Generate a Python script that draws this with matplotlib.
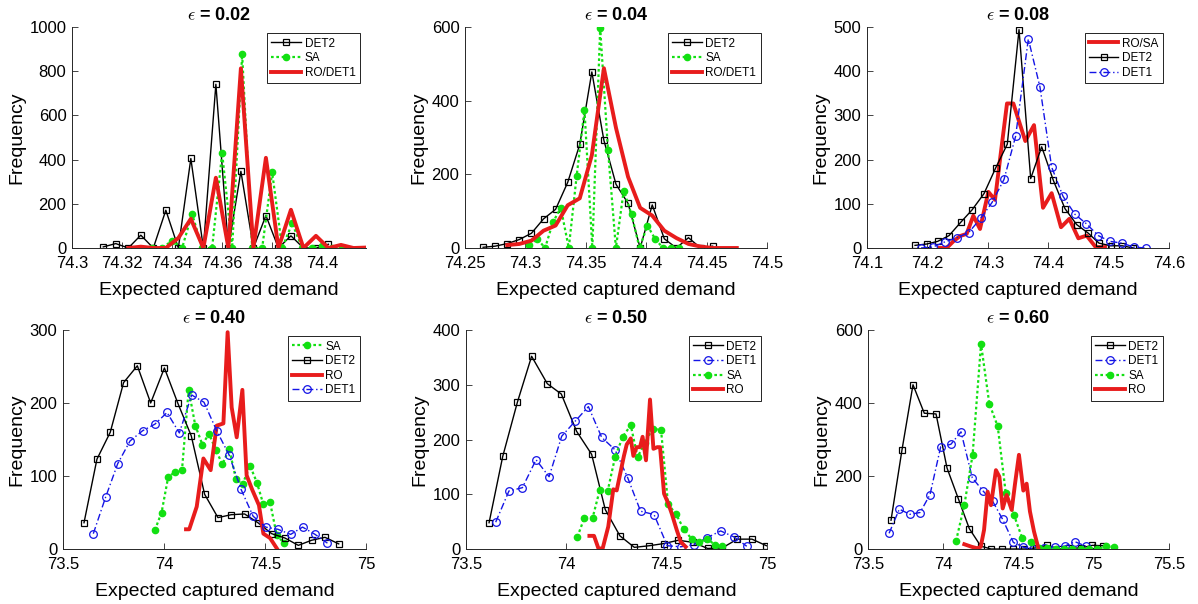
import numpy as np
import matplotlib.pyplot as plt
from matplotlib.ticker import FuncFormatter

plt.rcParams['font.family'] = ['Liberation Sans', 'DejaVu Sans']
plt.rcParams['mathtext.fontset'] = 'cm'

# ---- eps = 0.02 ----
det2_x_002 = [74.3125, 74.3175, 74.3225, 74.3275, 74.3325, 74.3375, 74.3425, 74.3475, 74.3525, 74.3575,
              74.3625, 74.3675, 74.3725, 74.3775, 74.3825, 74.3875, 74.3925, 74.3975, 74.4025]
det2_y_002 = [5, 20, 0, 58, 0, 171, 0, 405, 0, 741, 0, 347, 0, 147, 0, 55, 0, 0, 17]
sa_x_002 = [74.332, 74.336, 74.340, 74.344, 74.348, 74.352, 74.356, 74.360, 74.364, 74.368,
            74.372, 74.376, 74.380, 74.384, 74.388, 74.392, 74.396, 74.400, 74.404, 74.408]
sa_y_002 = [0, 0, 33, 0, 155, 0, 0, 430, 0, 876, 0, 0, 342, 0, 112, 0, 0, 10, 0, 0]
ro_x_002 = [74.3225, 74.3275, 74.3325, 74.3375, 74.3425, 74.3475, 74.3525, 74.3575, 74.3625, 74.3675,
            74.3725, 74.3775, 74.3825, 74.3875, 74.3925, 74.3975, 74.4025, 74.4075, 74.4125, 74.4175]
ro_y_002 = [0, 6, 0, 0, 45, 132, 0, 318, 0, 813, 0, 408, 0, 173, 0, 55, 0, 14, 0, 2]

# ---- eps = 0.04 ----
det2_x_004 = [74.265, 74.275, 74.285, 74.295, 74.305, 74.315, 74.325, 74.335, 74.345, 74.355,
              74.365, 74.375, 74.385, 74.395, 74.405, 74.415, 74.425, 74.435, 74.445, 74.455]
det2_y_004 = [2, 5, 12, 23, 40, 79, 105, 178, 281, 478, 292, 173, 121, 0, 117, 25, 0, 28, 0, 5]
sa_x_004 = [74.3033, 74.3098, 74.3163, 74.3228, 74.3293, 74.3359, 74.3424, 74.3489, 74.3554, 74.3619,
            74.3684, 74.3749, 74.3814, 74.3879, 74.3945, 74.4010, 74.4075, 74.4140, 74.4205, 74.4270]
sa_y_004 = [9, 25, 0, 70, 109, 0, 195, 375, 0, 597, 265, 0, 156, 91, 0, 61, 24, 0, 0, 0]
ro_x_004 = [74.285, 74.295, 74.305, 74.315, 74.325, 74.335, 74.345, 74.355, 74.365, 74.375,
            74.385, 74.395, 74.405, 74.415, 74.425, 74.435, 74.445, 74.455, 74.465, 74.475]
ro_y_004 = [8, 11, 20, 47, 61, 116, 135, 252, 488, 326, 193, 109, 88, 47, 27, 11, 4, 0, 0, 0]

# ---- eps = 0.08 ----
ro_x_008 = [74.2192, 74.2319, 74.2429, 74.2540, 74.2650, 74.2760, 74.2871, 74.3009, 74.3119, 74.3318,
            74.3423, 74.3621, 74.3765, 74.3914, 74.4057, 74.4212, 74.4350, 74.4499, 74.4637, 74.4786, 74.4940]
ro_y_008 = [0, 0, 15, 27, 32, 73, 43, 127, 109, 327, 327, 242, 278, 91, 124, 47, 66, 22, 28, 2, 2]
det2_x_008 = [74.1795, 74.1988, 74.2170, 74.2358, 74.2551, 74.2738, 74.2937, 74.3130, 74.3323, 74.3517,
              74.3710, 74.3892, 74.4085, 74.4278, 74.4471, 74.4659, 74.4841, 74.5034, 74.5227, 74.5409]
det2_y_008 = [6, 9, 15, 28, 58, 86, 123, 181, 235, 494, 157, 229, 153, 89, 53, 34, 11, 5, 5, 0]
det1_x_008 = [74.1894, 74.2087, 74.2291, 74.2485, 74.2683, 74.2882, 74.3070, 74.3268, 74.3461, 74.3671,
              74.3864, 74.4057, 74.4245, 74.4444, 74.4631, 74.4830, 74.5023, 74.5222, 74.5420, 74.5614]
det1_y_008 = [0, 2, 14, 23, 35, 67, 103, 155, 253, 473, 364, 183, 117, 76, 55, 28, 15, 11, 2, 0]

# ---- eps = 0.40 ----
sa_x_040 = [73.955, 73.988, 74.021, 74.054, 74.089, 74.122, 74.155, 74.190, 74.223, 74.256,
            74.289, 74.323, 74.356, 74.389, 74.426, 74.460, 74.492, 74.525, 74.558, 74.594]
sa_y_040 = [26, 50, 99, 105, 108, 218, 169, 143, 158, 136, 116, 137, 96, 89, 114, 91, 61, 64, 19, 8]
det2_x_040 = [73.604, 73.668, 73.734, 73.800, 73.868, 73.934, 74.002, 74.068, 74.135, 74.201,
              74.267, 74.333, 74.399, 74.465, 74.533, 74.599, 74.665, 74.731, 74.797, 74.865]
det2_y_040 = [36, 123, 160, 228, 251, 200, 248, 200, 155, 75, 43, 47, 48, 36, 21, 15, 5, 12, 16, 7]
ro_x_040 = [74.109, 74.125, 74.162, 74.195, 74.231, 74.261, 74.294, 74.315, 74.335, 74.360,
            74.388, 74.409, 74.437, 74.470, 74.492, 74.525, 74.558]
ro_y_040 = [27, 27, 58, 124, 108, 169, 172, 297, 194, 153, 218, 101, 81, 60, 21, 15, 1]
det1_x_040 = [73.650, 73.711, 73.771, 73.832, 73.894, 73.955, 74.015, 74.076, 74.137, 74.198,
              74.261, 74.322, 74.381, 74.441, 74.503, 74.564, 74.627, 74.686, 74.748, 74.809]
det1_y_040 = [21, 71, 117, 148, 162, 171, 187, 159, 211, 201, 162, 129, 82, 45, 30, 27, 20, 30, 20, 8]

# ---- eps = 0.50 ----
det2_x_050 = [73.615, 73.683, 73.756, 73.827, 73.905, 73.975, 74.051, 74.126, 74.194, 74.267,
              74.339, 74.414, 74.487, 74.558, 74.633, 74.704, 74.777, 74.852, 74.925, 74.997]
det2_y_050 = [48, 169, 268, 352, 302, 283, 215, 173, 72, 24, 3, 6, 10, 16, 12, 1, 2, 18, 18, 6]
det1_x_050 = [73.648, 73.714, 73.781, 73.849, 73.914, 73.977, 74.043, 74.110, 74.176, 74.243,
              74.306, 74.370, 74.437, 74.503, 74.570, 74.636, 74.703, 74.769, 74.836, 74.899]
det1_y_050 = [49, 106, 112, 163, 132, 206, 233, 260, 204, 181, 130, 69, 63, 6, 4, 8, 21, 33, 22, 5]
sa_x_050 = [74.055, 74.090, 74.131, 74.166, 74.206, 74.243, 74.281, 74.321, 74.355, 74.392,
            74.430, 74.472, 74.507, 74.546, 74.586, 74.625, 74.663, 74.703, 74.741, 74.777]
sa_y_050 = [22, 57, 57, 107, 106, 168, 205, 226, 168, 194, 220, 217, 82, 64, 36, 18, 12, 19, 7, 6]
ro_x_050 = [74.115, 74.138, 74.160, 74.181, 74.209, 74.234, 74.251, 74.271, 74.287, 74.301,
            74.321, 74.334, 74.350, 74.367, 74.380, 74.397, 74.417, 74.434, 74.453, 74.467,
            74.487, 74.508, 74.525, 74.550, 74.570, 74.595]
ro_y_050 = [24, 24, 1, 1, 41, 109, 107, 142, 170, 191, 202, 170, 186, 186, 205, 162, 273, 183, 186, 186,
            101, 83, 65, 35, 13, 4]

# ---- eps = 0.60 ----
det2_x_060 = [73.653, 73.726, 73.799, 73.874, 73.952, 74.025, 74.100, 74.173, 74.249, 74.317,
              74.393, 74.466, 74.539, 74.616, 74.687, 74.771, 74.838, 74.915, 74.991, 75.064]
det2_y_060 = [79, 272, 450, 372, 370, 222, 138, 56, 8, 0, 0, 0, 0, 3, 10, 0, 2, 3, 10, 9]
det1_x_060 = [73.640, 73.708, 73.779, 73.846, 73.912, 73.983, 74.051, 74.118, 74.193, 74.262,
              74.328, 74.395, 74.466, 74.532, 74.599, 74.672, 74.742, 74.809, 74.875, 74.946]
det1_y_060 = [43, 109, 95, 100, 149, 280, 287, 321, 195, 160, 131, 81, 18, 5, 0, 3, 5, 8, 20, 8]
sa_x_060 = [74.085, 74.140, 74.195, 74.251, 74.306, 74.362, 74.415, 74.470, 74.525, 74.581,
            74.636, 74.692, 74.747, 74.802, 74.858, 74.913, 74.968, 75.024, 75.079, 75.135]
sa_y_060 = [22, 120, 258, 562, 398, 336, 154, 93, 29, 20, 2, 3, 0, 0, 0, 0, 0, 0, 7, 6]
ro_x_060 = [74.140, 74.189, 74.226, 74.249, 74.271, 74.295, 74.317, 74.350, 74.373, 74.395,
            74.421, 74.455, 74.477, 74.503, 74.532, 74.554, 74.576, 74.603, 74.632]
ro_y_060 = [13, 6, 2, 6, 52, 157, 120, 216, 198, 111, 148, 107, 179, 258, 160, 179, 103, 48, 2]

GREEN = '#12e012'
RED = '#e81c1c'
BLUE = '#1414e6'

styles = {
    'DET2': dict(color='k', lw=1.0, marker='s', ms=4.5, mfc='none', mew=0.9),
    'SA': dict(color=GREEN, lw=1.6, ls=(0, (1.2, 1.2)), marker='o', ms=4.5, mfc=GREEN, mec=GREEN),
    'RO': dict(color=RED, lw=2.8),
    'DET1': dict(color=BLUE, lw=1.0, ls=(0, (5, 2, 1, 2)), marker='o', ms=5.5, mfc='none', mew=0.9),
}

W, H = 1198, 604
fig = plt.figure(figsize=(W / 100, H / 100), dpi=100)


def add_panel(px, title, xlim, xticks, ylim, yticks, series):
    l, r, t, b = px
    ax = fig.add_axes([l / W, 1 - b / H, (r - l) / W, (b - t) / H])
    for label, kind, x, y in series:
        ax.plot(x, y, label=label, **styles[kind])
    ax.set_xlim(*xlim)
    ax.set_ylim(*ylim)
    ax.set_xticks(xticks)
    ax.set_yticks(yticks)
    ax.xaxis.set_major_formatter(FuncFormatter(lambda v, _: '%g' % v))
    ax.tick_params(direction='in', length=4, width=0.6, labelsize=12, colors='#262626',
                   labelcolor='black')
    ax.tick_params(axis='x', pad=6)
    ax.tick_params(axis='y', pad=4)
    for side in ('top', 'right'):
        ax.spines[side].set_visible(False)
    for side in ('left', 'bottom'):
        ax.spines[side].set_linewidth(0.7)
        ax.spines[side].set_color('#262626')
    ax.set_xlabel('Expected captured demand', fontsize=14, labelpad=8)
    ax.set_ylabel('Frequency', fontsize=14, labelpad=3)
    ax.set_title(r'$\epsilon$' + ' = ' + title, fontsize=13, fontweight='bold', pad=5)
    leg = ax.legend(loc='upper right', fontsize=8.5, handlelength=2.5, handletextpad=0.3,
                    labelspacing=0.22, borderpad=0.35, borderaxespad=0.55, fancybox=False,
                    framealpha=1, edgecolor='black')
    leg.get_frame().set_linewidth(0.6)
    return ax


add_panel((72, 366, 27, 248), '0.02', (74.3, 74.4175),
          [74.3, 74.32, 74.34, 74.36, 74.38, 74.4], (0, 1000), [0, 200, 400, 600, 800, 1000],
          [('DET2', 'DET2', det2_x_002, det2_y_002),
           ('SA', 'SA', sa_x_002, sa_y_002),
           ('RO/DET1', 'RO', ro_x_002, ro_y_002)])

add_panel((465, 767, 27, 248), '0.04', (74.25, 74.5),
          [74.25, 74.3, 74.35, 74.4, 74.45, 74.5], (0, 600), [0, 200, 400, 600],
          [('DET2', 'DET2', det2_x_004, det2_y_004),
           ('SA', 'SA', sa_x_004, sa_y_004),
           ('RO/DET1', 'RO', ro_x_004, ro_y_004)])

add_panel((867, 1169, 27, 248), '0.08', (74.1, 74.6),
          [74.1, 74.2, 74.3, 74.4, 74.5, 74.6], (0, 500), [0, 100, 200, 300, 400, 500],
          [('RO/SA', 'RO', ro_x_008, ro_y_008),
           ('DET2', 'DET2', det2_x_008, det2_y_008),
           ('DET1', 'DET1', det1_x_008, det1_y_008)])

add_panel((63, 366, 330, 549), '0.40', (73.5, 75),
          [73.5, 74, 74.5, 75], (0, 300), [0, 100, 200, 300],
          [('SA', 'SA', sa_x_040, sa_y_040),
           ('DET2', 'DET2', det2_x_040, det2_y_040),
           ('RO', 'RO', ro_x_040, ro_y_040),
           ('DET1', 'DET1', det1_x_040, det1_y_040)])

add_panel((466, 767, 330, 549), '0.50', (73.5, 75),
          [73.5, 74, 74.5, 75], (0, 400), [0, 100, 200, 300, 400],
          [('DET2', 'DET2', det2_x_050, det2_y_050),
           ('DET1', 'DET1', det1_x_050, det1_y_050),
           ('SA', 'SA', sa_x_050, sa_y_050),
           ('RO', 'RO', ro_x_050, ro_y_050)])

add_panel((868, 1169, 330, 549), '0.60', (73.5, 75.5),
          [73.5, 74, 74.5, 75, 75.5], (0, 600), [0, 200, 400, 600],
          [('DET2', 'DET2', det2_x_060, det2_y_060),
           ('DET1', 'DET1', det1_x_060, det1_y_060),
           ('SA', 'SA', sa_x_060, sa_y_060),
           ('RO', 'RO', ro_x_060, ro_y_060)])

fig.savefig('out.png', dpi=100)
